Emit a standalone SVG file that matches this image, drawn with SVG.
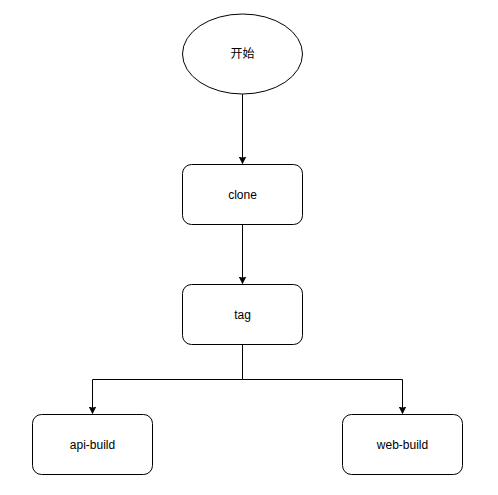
<svg xmlns="http://www.w3.org/2000/svg" width="498" height="495" viewBox="0 0 498 495">
<style>
.node{fill:#ffffff;stroke:#000000;stroke-width:1}
.lbl{font-family:"Liberation Sans","Noto Sans CJK SC",Arial,sans-serif;font-size:12px;fill:#000000;text-anchor:middle;dominant-baseline:central}
.edge{fill:none;stroke:#000000;stroke-width:1}
</style>
<defs>
<marker id="arr" viewBox="0 0 10 10" refX="10" refY="5" markerWidth="7" markerHeight="7" markerUnits="userSpaceOnUse" orient="auto">
<path d="M0,0 L10,5 L0,10 L2.5,5 Z" fill="#000000" stroke="#000000"/>
</marker>
</defs>
<rect width="498" height="495" fill="#ffffff"/>
<g id="connectors">
<path class="edge" d="M242.5,94 L242.5,163.5" marker-end="url(#arr)"/>
<path class="edge" d="M242.5,224.5 L242.5,283.5" marker-end="url(#arr)"/>
<path class="edge" d="M242.5,344.5 L242.5,379.5 L92.5,379.5 L92.5,413.5" marker-end="url(#arr)"/>
<path class="edge" d="M242.5,379.5 L402.5,379.5 L402.5,413.5" marker-end="url(#arr)"/>
</g>
<g id="start">
<ellipse class="node" cx="242.5" cy="54" rx="60" ry="40"/>
<text class="lbl" x="242.5" y="54">开始</text>
</g>
<g id="clone">
<rect class="node" x="182.5" y="164.5" width="120" height="60" rx="9" ry="9"/>
<text class="lbl" x="242.5" y="194.5">clone</text>
</g>
<g id="tag">
<rect class="node" x="182.5" y="284.5" width="120" height="60" rx="9" ry="9"/>
<text class="lbl" x="242.5" y="314.5">tag</text>
</g>
<g id="api-build">
<rect class="node" x="32.5" y="414.5" width="120" height="60" rx="9" ry="9"/>
<text class="lbl" x="92.5" y="444.5">api-build</text>
</g>
<g id="web-build">
<rect class="node" x="342.5" y="414.5" width="120" height="60" rx="9" ry="9"/>
<text class="lbl" x="402.5" y="444.5">web-build</text>
</g>
</svg>
